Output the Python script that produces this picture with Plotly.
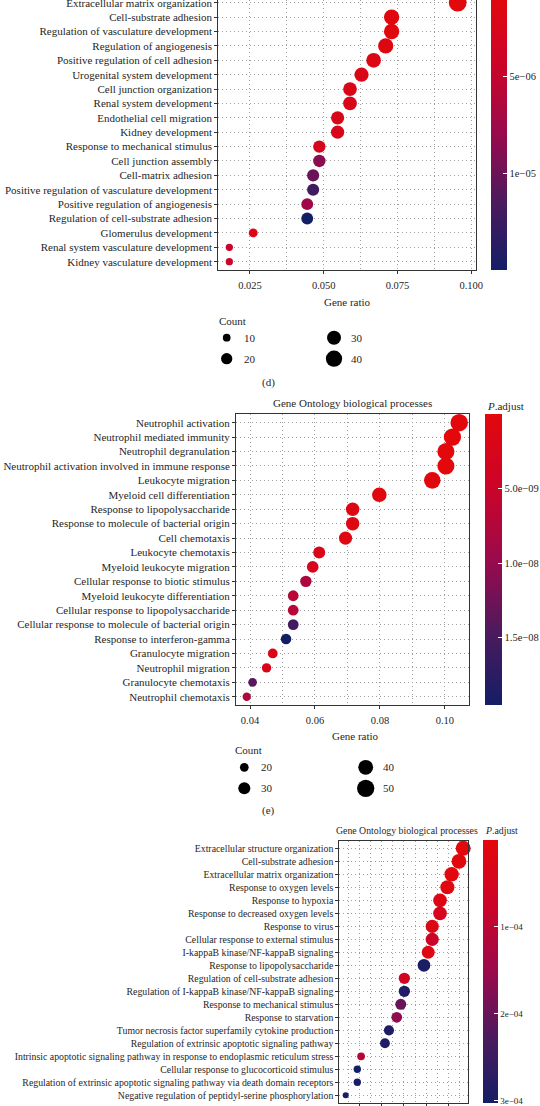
import plotly.graph_objects as go

W, H = 540, 1106
FONT = "Liberation Serif"
TXT = "#262626"
LINE = "#333333"
GRID = "#a0a0a0"

# ---------------- Panel (d) data ----------------
d_terms = ["Extracellular matrix organization", "Cell-substrate adhesion",
           "Regulation of vasculature development", "Regulation of angiogenesis",
           "Positive regulation of cell adhesion", "Urogenital system development",
           "Cell junction organization", "Renal system development",
           "Endothelial cell migration", "Kidney development",
           "Response to mechanical stimulus", "Cell junction assembly",
           "Cell-matrix adhesion", "Positive regulation of vasculature development",
           "Positive regulation of angiogenesis", "Regulation of cell-substrate adhesion",
           "Glomerulus development", "Renal system vasculature development",
           "Kidney vasculature development"]
d_ratio = [0.0954, 0.0730, 0.0730, 0.0710, 0.0669, 0.0628, 0.0589, 0.0589, 0.0547, 0.0547,
           0.0485, 0.0485, 0.0464, 0.0464, 0.0444, 0.0444, 0.0261, 0.0180, 0.0180]
d_count = [47, 36, 36, 35, 33, 31, 29, 29, 27, 27, 24, 24, 23, 23, 22, 22, 13, 9, 9]
d_padj = [8.1e-7, 1.2e-6, 1.2e-6, 1.6e-6, 2.0e-6, 2.2e-6, 2.2e-6, 2.4e-6, 2.5e-6, 2.6e-6,
          2.8e-6, 8.5e-6, 1.0e-5, 1.21e-5, 7.5e-6, 1.494e-5, 2.0e-6, 4.5e-6, 4.5e-6]
d_xticks = [0.025, 0.050, 0.075, 0.100]
d_xticklabels = ["0.025", "0.050", "0.075", "0.100"]
d_cb_ticks = [5e-6, 1e-5]
d_cb_labels = ["5e\u221206", "1e\u221205"]
d_legend = [10, 20, 30, 40]

# ---------------- Panel (e) data ----------------
e_terms = ["Neutrophil activation", "Neutrophil mediated immunity", "Neutrophil degranulation",
           "Neutrophil activation involved in immune response", "Leukocyte migration",
           "Myeloid cell differentiation", "Response to lipopolysaccharide",
           "Response to molecule of bacterial origin", "Cell chemotaxis",
           "Leukocyte chemotaxis", "Myeloid leukocyte migration",
           "Cellular response to biotic stimulus", "Myeloid leukocyte differentiation",
           "Cellular response to lipopolysaccharide",
           "Cellular response to molecule of bacterial origin",
           "Response to interferon-gamma", "Granulocyte migration", "Neutrophil migration",
           "Granulocyte chemotaxis", "Neutrophil chemotaxis"]
e_ratio = [0.1044, 0.1023, 0.1003, 0.1003, 0.0961, 0.0798, 0.0716, 0.0716, 0.0694, 0.0613,
           0.0593, 0.0572, 0.0533, 0.0533, 0.0533, 0.0511, 0.0470, 0.0451, 0.0408, 0.0390]
e_count = [51, 50, 49, 49, 47, 39, 35, 35, 34, 30, 29, 28, 26, 26, 26, 25, 23, 22, 20, 19]
e_padj = [1e-11, 2e-11, 2e-11, 2e-11, 1.5e-10, 6e-10, 1.2e-9, 1.2e-9, 1.0e-9, 2.0e-9,
          2.5e-9, 8.0e-9, 7.0e-9, 7.0e-9, 1.55e-8, 1.956e-8, 2.0e-9, 2.5e-9, 1.4e-8, 7.5e-9]
e_xticks = [0.04, 0.06, 0.08, 0.10]
e_xticklabels = ["0.04", "0.06", "0.08", "0.10"]
e_cb_ticks = [5e-9, 1e-8, 1.5e-8]
e_cb_labels = ["5.0e\u221209", "1.0e\u221208", "1.5e\u221208"]
e_legend = [20, 30, 40, 50]

# ---------------- Panel (f) data ----------------
f_terms = ["Extracellular structure organization", "Cell-substrate adhesion",
           "Extracellular matrix organization", "Response to oxygen levels",
           "Response to hypoxia", "Response to decreased oxygen levels", "Response to virus",
           "Cellular response to external stimulus", "I-kappaB kinase/NF-kappaB signaling",
           "Response to lipopolysaccharide", "Regulation of cell-substrate adhesion",
           "Regulation of I-kappaB kinase/NF-kappaB signaling",
           "Response to mechanical stimulus", "Response to starvation",
           "Tumor necrosis factor superfamily cytokine production",
           "Regulation of extrinsic apoptotic signaling pathway",
           "Intrinsic apoptotic signaling pathway in response to endoplasmic reticulum stress",
           "Cellular response to glucocorticoid stimulus",
           "Regulation of extrinsic apoptotic signaling pathway via death domain receptors",
           "Negative regulation of peptidyl-serine phosphorylation"]
f_ratio = [0.0666, 0.0647, 0.0614, 0.0595, 0.0562, 0.0562, 0.0527, 0.0527, 0.0509, 0.0490,
           0.0402, 0.0402, 0.0386, 0.0368, 0.0333, 0.0315, 0.0208, 0.0191, 0.0191, 0.0139]
f_count = [38, 37, 35, 34, 32, 32, 30, 30, 29, 28, 23, 23, 22, 21, 19, 18, 12, 11, 11, 8]
f_padj = [5e-8, 2e-6, 5e-6, 1.0e-5, 2.0e-5, 4.5e-5, 2.5e-5, 7.5e-5, 1.5e-5, 2.95e-4,
          6.0e-5, 2.9e-4, 2.0e-4, 1.6e-4, 2.85e-4, 2.9e-4, 1.1e-4, 3.03e-4, 3.0e-4, 3.0e-4]
f_xticks = [0.02, 0.03, 0.04, 0.05, 0.06]
f_xticklabels = ["0.02", "0.03", "0.04", "0.05", "0.06"]
f_cb_ticks = [1e-4, 2e-4, 3e-4]
f_cb_labels = ["1e\u221204", "2e\u221204", "3e\u221204"]

TITLE = "Gene Ontology biological processes"
PADJ = "<i>P</i>.adjust"

COLORSCALE = [[0.0, "#141e66"], [0.25, "#4c1a5e"], [0.5, "#9a0a4c"],
              [0.75, "#cc0428"], [1.0, "#e2080c"]]


def px2x(x):
    return x / W


def py2y(y):
    return 1 - y / H


def size_d(c):
    return 2.7 * c ** 0.5 - 0.8


def size_e(c):
    return 3.31 * c ** 0.5 - 6.1


def size_f(c):
    return 2.7 * c ** 0.5 - 1.6


def minor_vals(ticks):
    step = ticks[1] - ticks[0]
    return [t - step / 2 for t in ticks] + [ticks[-1] + step / 2]


panels = [
    dict(terms=d_terms, ratio=d_ratio, count=d_count, padj=d_padj, size=size_d,
         xticks=d_xticks, xtl=d_xticklabels, cbt=d_cb_ticks, cbl=d_cb_labels,
         left=218.3, right=476.0, top=0.0, bottom=270.3, yr=[18.6, -0.19],
         xr=[0.01426, 0.1016], fs=11, tfs=10.5, mirror_x=False, standoff=2,
         cb_left=491.0, cb_th=16.3, cb_top=-5.9, cb_bot=270.3, cbfs=10.5),
    dict(terms=e_terms, ratio=e_ratio, count=e_count, padj=e_padj, size=size_e,
         xticks=e_xticks, xtl=e_xticklabels, cbt=e_cb_ticks, cbl=e_cb_labels,
         left=236.0, right=469.3, top=414.0, bottom=705.4, yr=[19.6, -0.6],
         xr=[0.03569, 0.1075], fs=11, tfs=10.5, mirror_x=True, standoff=2,
         cb_left=485.0, cb_th=16.7, cb_top=414.0, cb_bot=705.4, cbfs=10.5),
    dict(terms=f_terms, ratio=f_ratio, count=f_count, padj=f_padj, size=size_f,
         xticks=f_xticks, xtl=f_xticklabels, cbt=f_cb_ticks, cbl=f_cb_labels,
         left=339.3, right=467.7, top=840.5, bottom=1103.1, yr=[19.6, -0.6],
         xr=[0.01103, 0.06861], fs=9.8, tfs=9.6, mirror_x=True, standoff=8,
         cb_left=482.7, cb_th=15.0, cb_top=840.5, cb_bot=1103.1, cbfs=9),
]

fig = go.Figure()
layout = dict(width=W, height=H, autosize=False,
              margin=dict(l=0, r=0, t=0, b=0, pad=0, autoexpand=False),
              paper_bgcolor="white", plot_bgcolor="rgba(0,0,0,0)", showlegend=False,
              font=dict(family=FONT, color=TXT))

# ---------------- Count legends (hidden pixel-scaled axis, added first) -------------
layout["xaxis4"] = dict(domain=[0, 1], range=[0, W], visible=False, fixedrange=True,
                        anchor="y4", showgrid=False, zeroline=False)
layout["yaxis4"] = dict(domain=[0, 1], range=[H, 0], visible=False, fixedrange=True,
                        anchor="x4", showgrid=False, zeroline=False)

annotations = []


def ann(text, x, y, size, xanchor="center"):
    annotations.append(dict(text=text, x=px2x(x), y=py2y(y), xref="paper", yref="paper",
                            showarrow=False, xanchor=xanchor, yanchor="middle",
                            font=dict(family=FONT, size=size, color=TXT)))


legends = [
    dict(vals=d_legend, size=size_d, x0=226.7, y0=337.7, dx=107.3, dy=21.0,
         title_x=216.7, title_y=321.0),
    dict(vals=e_legend, size=size_e, x0=244.3, y0=767.3, dx=121.4, dy=21.0,
         title_x=233.3, title_y=750.0),
]
for lg in legends:
    xs, ys, ss = [], [], []
    for j, v in enumerate(lg["vals"]):
        xk = lg["x0"] + (j // 2) * lg["dx"]
        yk = lg["y0"] + (j % 2) * lg["dy"]
        xs.append(xk)
        ys.append(yk)
        ss.append(lg["size"](v))
        ann(str(v), xk + 15, yk, 11, "left")
    fig.add_trace(go.Scatter(x=xs, y=ys, mode="markers", xaxis="x4", yaxis="y4",
                             cliponaxis=False, hoverinfo="skip",
                             marker=dict(size=ss, color="black", opacity=1,
                                         line=dict(width=0))))
    ann("Count", lg["title_x"], lg["title_y"], 11, "left")

for i, p in enumerate(panels):
    k = "" if i == 0 else str(i + 1)
    ca = "coloraxis" + k
    fig.add_trace(go.Scatter(
        x=p["ratio"], y=p["terms"], mode="markers", cliponaxis=False,
        xaxis="x" + k, yaxis="y" + k, hoverinfo="skip",
        marker=dict(size=[p["size"](c) for c in p["count"]],
                    color=[-v for v in p["padj"]], coloraxis=ca, line=dict(width=0),
                    opacity=1)))
    layout["xaxis" + k] = dict(
        domain=[px2x(p["left"]), px2x(p["right"])], range=p["xr"], anchor="y" + k,
        showline=True, linecolor=LINE, linewidth=1, mirror=p["mirror_x"],
        ticks="outside", ticklen=3, tickwidth=1, tickcolor=LINE,
        tickmode="array", tickvals=p["xticks"], ticktext=p["xtl"],
        ticklabelstandoff=p["standoff"],
        tickfont=dict(family=FONT, size=p["tfs"], color=TXT),
        showgrid=True, gridcolor=GRID, gridwidth=1, griddash="1px,3px",
        zeroline=False, fixedrange=True, automargin=False,
        minor=dict(tickmode="array", tickvals=minor_vals(p["xticks"]), showgrid=True,
                   gridcolor=GRID, gridwidth=1, griddash="1px,3px", ticks=""))
    layout["yaxis" + k] = dict(
        domain=[py2y(p["bottom"]), py2y(p["top"])], anchor="x" + k,
        type="category", categoryorder="array", categoryarray=p["terms"], range=p["yr"],
        showline=True, linecolor=LINE, linewidth=1, mirror=True,
        ticks="outside", ticklen=3, tickwidth=1, tickcolor=LINE,
        tickfont=dict(family=FONT, size=p["fs"], color=TXT),
        showgrid=True, gridcolor=GRID, gridwidth=1, griddash="1px,3px",
        zeroline=False, fixedrange=True, automargin=False)
    layout[ca] = dict(
        colorscale=COLORSCALE, cmin=-max(p["padj"]), cmax=-min(p["padj"]),
        colorbar=dict(
            x=px2x(p["cb_left"]), xanchor="left", xpad=0, xref="paper",
            y=py2y(p["cb_bot"]), yanchor="bottom", ypad=0, yref="paper",
            len=p["cb_bot"] - p["cb_top"], lenmode="pixels",
            thickness=p["cb_th"], thicknessmode="pixels", outlinewidth=0,
            ticks="inside", ticklen=4, tickwidth=1, tickcolor="white",
            tickmode="array", tickvals=[-v for v in p["cbt"]], ticktext=p["cbl"],
            tickfont=dict(family=FONT, size=p["cbfs"], color=TXT)))

ann("Gene ratio", 347.5, 302.0, 11)
ann("(d)", 268.3, 382.0, 11)
ann(TITLE, 352.0, 402.7, 11)
ann(PADJ, 485.0, 405.7, 11, "left")
ann("Gene ratio", 355.0, 735.7, 11)
ann("(e)", 268.0, 810.0, 11)
ann(TITLE, 406.5, 830.0, 9.8)
ann(PADJ, 482.7, 830.0, 9.8, "left")

layout["annotations"] = annotations
fig.update_layout(**layout)
fig.write_html("out.html", config={"displayModeBar": False},
               post_script="document.body.style.margin='0';"
                           "document.body.style.padding='0';"
                           "document.body.style.overflow='hidden';")
